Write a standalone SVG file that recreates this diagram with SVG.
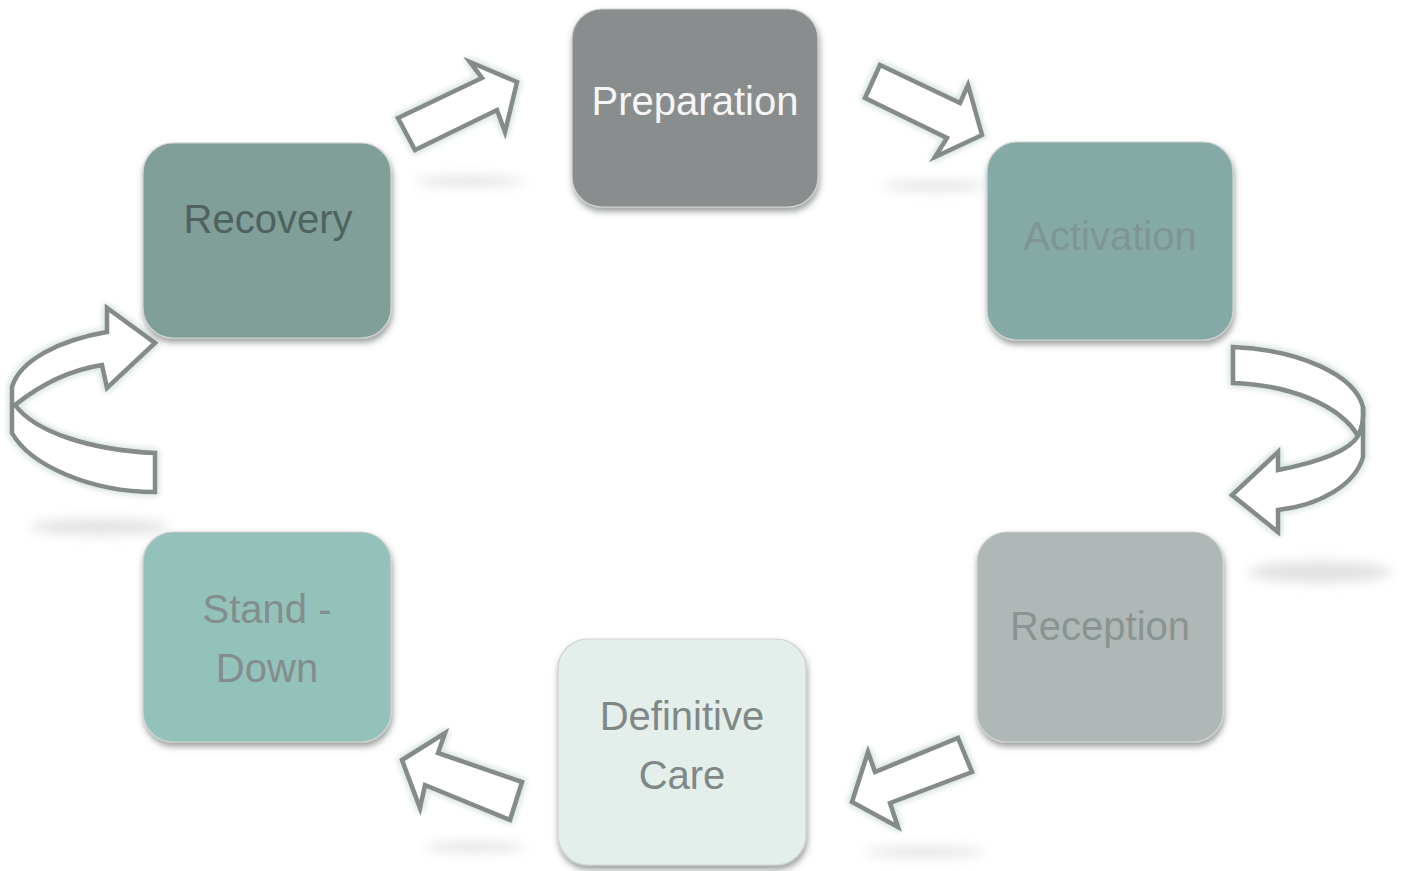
<svg xmlns="http://www.w3.org/2000/svg" width="1424" height="871" viewBox="0 0 1424 871">
  <defs>
    <filter id="boxShadow" x="-10%" y="-10%" width="125%" height="130%">
      <feDropShadow dx="1" dy="4" stdDeviation="3" flood-color="#4a4f4e" flood-opacity="0.55"/>
    </filter>
    <filter id="glow" x="-20%" y="-20%" width="140%" height="140%">
      <feGaussianBlur stdDeviation="2.5"/>
    </filter>
    <filter id="smudge" x="-30%" y="-150%" width="160%" height="400%">
      <feGaussianBlur stdDeviation="6"/>
    </filter>
  </defs>
  <style>
    .box { stroke: #cfd3d2; stroke-width: 1.2; filter: url(#boxShadow); }
    .label { font-family: "Liberation Sans", Arial, sans-serif; font-size: 40px; text-anchor: middle; fill: #878d8c; }
    .halo { fill: none; stroke: #dbe8e2; stroke-width: 10; stroke-linejoin: round; filter: url(#glow); }
    .arrow { fill: #ffffff; stroke: #848b8a; stroke-width: 4.5; stroke-linejoin: miter; }
    .shade { fill: #b4b7b6; opacity: 0.4; filter: url(#smudge); }
  </style>

  <rect width="1424" height="871" fill="#ffffff"/>

  <!-- soft reflections under the arrows -->
  <g id="reflections">
    <ellipse class="shade" cx="470" cy="181" rx="55" ry="5"/>
    <ellipse class="shade" cx="935" cy="186" rx="52" ry="5"/>
    <ellipse class="shade" cx="100" cy="527" rx="70" ry="8"/>
    <ellipse class="shade" cx="1320" cy="572" rx="72" ry="11"/>
    <ellipse class="shade" cx="475" cy="847" rx="50" ry="5"/>
    <ellipse class="shade" cx="925" cy="852" rx="60" ry="5"/>
  </g>

  <!-- connectors -->
  <g id="connectors">
    <!-- Recovery -> Preparation -->
    <polygon class="halo" points="398,118 482,78 470,62 517,82 505,132 497,110 415,150"/>
    <polygon class="arrow" points="398,118 482,78 470,62 517,82 505,132 497,110 415,150"/>
    <!-- Preparation -> Activation -->
    <polygon class="halo" points="880,65 960,103 968,85 982,135 935,157 947,138 865,98"/>
    <polygon class="arrow" points="880,65 960,103 968,85 982,135 935,157 947,138 865,98"/>
    <!-- Activation -> Reception -->
    <path class="halo" d="M1233,347 C1300,350 1355,375 1363,407 L1363,457 C1355,485 1320,505 1278,510 L1278,532 L1232,495 L1278,452 L1278,470 C1320,462 1350,450 1358,436 C1340,405 1290,385 1233,383 Z"/>
    <path class="arrow" d="M1233,347 C1300,350 1355,375 1363,407 L1363,457 C1355,485 1320,505 1278,510 L1278,532 L1232,495 L1278,452 L1278,470 C1320,462 1350,450 1358,436 C1340,405 1290,385 1233,383 Z"/>
    <path fill="none" stroke="#848b8a" stroke-width="4.5" d="M1358,436 C1362,428 1364,418 1363,407"/>
    <!-- Reception -> Definitive Care -->
    <polygon class="halo" points="958,738 972,772 890,803 898,827 852,802 868,752 875,772"/>
    <polygon class="arrow" points="958,738 972,772 890,803 898,827 852,802 868,752 875,772"/>
    <!-- Definitive Care -> Stand - Down -->
    <polygon class="halo" points="522,782 510,820 425,785 420,808 402,760 445,733 438,753"/>
    <polygon class="arrow" points="522,782 510,820 425,785 420,808 402,760 445,733 438,753"/>
    <!-- Stand - Down -> Recovery -->
    <path class="halo" d="M155,453 C90,450 35,432 15,405 C40,385 70,370 102,365 L107,388 L155,343 L107,308 L107,332 C60,340 20,360 12,387 L12,433 C30,465 90,492 155,492 Z"/>
    <path class="arrow" d="M155,453 C90,450 35,432 15,405 C40,385 70,370 102,365 L107,388 L155,343 L107,308 L107,332 C60,340 20,360 12,387 L12,433 C30,465 90,492 155,492 Z"/>
  </g>

  <g id="preparation">
    <rect class="box" x="572" y="9" width="246" height="198" rx="30" fill="#8a8d8e"/>
    <text class="label" x="695" y="115" style="fill:#f6f6f6">Preparation</text>
  </g>

  <g id="activation">
    <rect class="box" x="987" y="142" width="246" height="198" rx="30" fill="#85aaa6"/>
    <text class="label" x="1110" y="250" style="fill:#7f9592">Activation</text>
  </g>

  <g id="reception">
    <rect class="box" x="977" y="532" width="246" height="210" rx="30" fill="#afb8b6"/>
    <text class="label" x="1100" y="640" style="fill:#899492">Reception</text>
  </g>

  <g id="definitive-care">
    <rect class="box" x="558" y="639" width="248" height="226" rx="30" fill="#e4eeeb"/>
    <text class="label" x="682" y="730" style="fill:#7f8887">Definitive</text>
    <text class="label" x="682" y="789" style="fill:#7f8887">Care</text>
  </g>

  <g id="stand-down">
    <rect class="box" x="143" y="532" width="248" height="210" rx="30" fill="#93c2ba"/>
    <text class="label" x="267" y="623" style="fill:#838d8c">Stand -</text>
    <text class="label" x="267" y="682" style="fill:#838d8c">Down</text>
  </g>

  <g id="recovery">
    <rect class="box" x="143" y="143" width="248" height="195" rx="30" fill="#809f99"/>
    <text class="label" x="268" y="233" style="fill:#4f625f">Recovery</text>
  </g>
</svg>
